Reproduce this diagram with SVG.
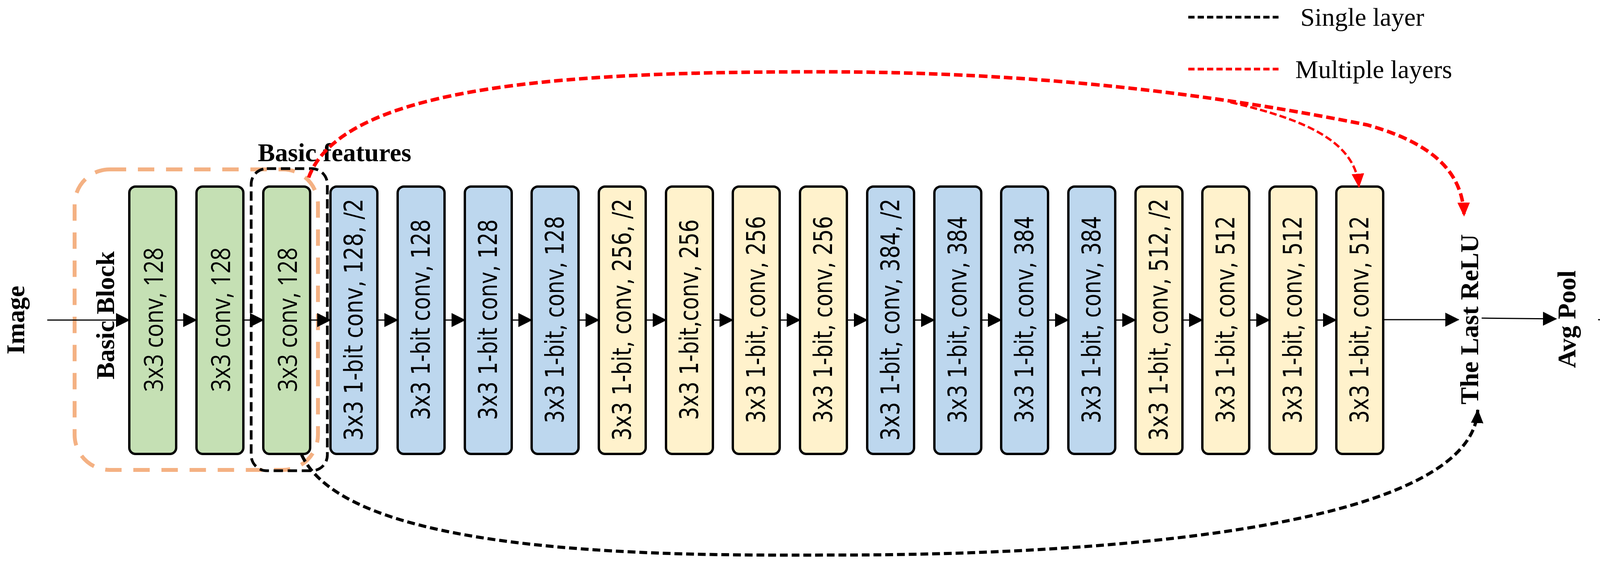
<svg xmlns="http://www.w3.org/2000/svg" width="4318" height="1445" viewBox="0 0 4318 1445">
<style>
.box{stroke:#000;stroke-width:6}
.g{fill:#C5E0B4}.b{fill:#BDD7EE}.y{fill:#FFF2CC}
.bt{font-family:"DejaVu Sans",sans-serif;font-size:50px;fill:#000;text-anchor:middle;dominant-baseline:central}
.gt{font-family:"Open Sans",sans-serif;font-size:52px;fill:#000;text-anchor:middle;dominant-baseline:central}
.lbl{font-family:"Liberation Serif",serif;font-weight:bold;font-size:66px;fill:#000;text-anchor:middle}
.leg{font-family:"Liberation Serif",serif;font-size:66px;fill:#000}
.flow{stroke:#000;stroke-width:3;fill:none}
</style>
<defs>
<marker id="ah" markerUnits="userSpaceOnUse" markerWidth="36" markerHeight="36" refX="34" refY="18" orient="auto"><path d="M0,0 L36,18 L0,36 Z" fill="#000"/></marker>
<marker id="ahr" markerUnits="userSpaceOnUse" markerWidth="36" markerHeight="36" refX="34" refY="18" orient="auto"><path d="M0,2 L36,18 L0,34 Z" fill="#FF0000"/></marker>
<marker id="ahk" markerUnits="userSpaceOnUse" markerWidth="36" markerHeight="36" refX="34" refY="18" orient="auto"><path d="M0,2 L36,18 L0,34 Z" fill="#000"/></marker>
</defs>
<rect x="0" y="0" width="4318" height="1445" fill="#fff"/>
<g id="groups">
<rect x="191" y="434" width="623" height="770" rx="90" fill="none" stroke="#F4B183" stroke-width="10" stroke-dasharray="42 30"/>
<rect x="643" y="432" width="195" height="774" rx="40" fill="none" stroke="#000" stroke-width="7" stroke-dasharray="24 12"/>
</g>
<g id="labels">
<text class="lbl" transform="translate(62,820) rotate(-90)">Image</text>
<text class="lbl" transform="translate(292,808) rotate(-90)">Basic  Block</text>
<text class="lbl" x="660" y="413" style="text-anchor:start">Basic  features</text>
<text class="lbl" transform="translate(3784,818) rotate(-90)">The Last ReLU</text>
<text class="lbl" transform="translate(4033,818) rotate(-90)">Avg Pool</text>
</g>
<g id="legend">
<line x1="3042" y1="44" x2="3273" y2="44" stroke="#000" stroke-width="7" stroke-dasharray="16 8"/>
<text class="leg" x="3329" y="66">Single layer</text>
<line x1="3042" y1="177" x2="3273" y2="177" stroke="#FF0000" stroke-width="7" stroke-dasharray="16 8"/>
<text class="leg" x="3316" y="200">Multiple layers</text>
</g>
<g id="n0"><rect class="box g" x="331" y="478" width="120" height="685" rx="16"/><text class="gt" transform="translate(391,819) rotate(-90) scale(1,1.3)" textLength="370" lengthAdjust="spacingAndGlyphs">3x3 conv, 128</text></g>
<g id="n1"><rect class="box g" x="503" y="478" width="120" height="685" rx="16"/><text class="gt" transform="translate(563,819) rotate(-90) scale(1,1.3)" textLength="370" lengthAdjust="spacingAndGlyphs">3x3 conv, 128</text></g>
<g id="n2"><rect class="box g" x="674" y="478" width="120" height="685" rx="16"/><text class="gt" transform="translate(734,819) rotate(-90) scale(1,1.3)" textLength="370" lengthAdjust="spacingAndGlyphs">3x3 conv, 128</text></g>
<g id="n3"><rect class="box b" x="846" y="478" width="120" height="685" rx="16"/><text class="bt" transform="translate(906,819) rotate(-90) scale(1,1.3)" textLength="620" lengthAdjust="spacingAndGlyphs">3x3 1-bit conv,  128, /2</text></g>
<g id="n4"><rect class="box b" x="1018" y="478" width="120" height="685" rx="16"/><text class="bt" transform="translate(1078,819) rotate(-90) scale(1,1.3)" textLength="514" lengthAdjust="spacingAndGlyphs">3x3 1-bit conv, 128</text></g>
<g id="n5"><rect class="box b" x="1190" y="478" width="120" height="685" rx="16"/><text class="bt" transform="translate(1250,819) rotate(-90) scale(1,1.3)" textLength="514" lengthAdjust="spacingAndGlyphs">3x3 1-bit conv, 128</text></g>
<g id="n6"><rect class="box b" x="1361" y="478" width="120" height="685" rx="16"/><text class="bt" transform="translate(1421,819) rotate(-90) scale(1,1.3)" textLength="531" lengthAdjust="spacingAndGlyphs">3x3 1-bit, conv, 128</text></g>
<g id="n7"><rect class="box y" x="1533" y="478" width="120" height="685" rx="16"/><text class="bt" transform="translate(1593,819) rotate(-90) scale(1,1.3)" textLength="620" lengthAdjust="spacingAndGlyphs">3x3 1-bit, conv, 256, /2</text></g>
<g id="n8"><rect class="box y" x="1705" y="478" width="120" height="685" rx="16"/><text class="bt" transform="translate(1765,819) rotate(-90) scale(1,1.3)" textLength="514" lengthAdjust="spacingAndGlyphs">3x3 1-bit,conv, 256</text></g>
<g id="n9"><rect class="box y" x="1876" y="478" width="120" height="685" rx="16"/><text class="bt" transform="translate(1936,819) rotate(-90) scale(1,1.3)" textLength="531" lengthAdjust="spacingAndGlyphs">3x3 1-bit, conv, 256</text></g>
<g id="n10"><rect class="box y" x="2048" y="478" width="120" height="685" rx="16"/><text class="bt" transform="translate(2108,819) rotate(-90) scale(1,1.3)" textLength="531" lengthAdjust="spacingAndGlyphs">3x3 1-bit, conv, 256</text></g>
<g id="n11"><rect class="box b" x="2220" y="478" width="120" height="685" rx="16"/><text class="bt" transform="translate(2280,819) rotate(-90) scale(1,1.3)" textLength="620" lengthAdjust="spacingAndGlyphs">3x3 1-bit, conv, 384, /2</text></g>
<g id="n12"><rect class="box b" x="2392" y="478" width="120" height="685" rx="16"/><text class="bt" transform="translate(2452,819) rotate(-90) scale(1,1.3)" textLength="531" lengthAdjust="spacingAndGlyphs">3x3 1-bit, conv, 384</text></g>
<g id="n13"><rect class="box b" x="2563" y="478" width="120" height="685" rx="16"/><text class="bt" transform="translate(2623,819) rotate(-90) scale(1,1.3)" textLength="531" lengthAdjust="spacingAndGlyphs">3x3 1-bit, conv, 384</text></g>
<g id="n14"><rect class="box b" x="2735" y="478" width="120" height="685" rx="16"/><text class="bt" transform="translate(2795,819) rotate(-90) scale(1,1.3)" textLength="531" lengthAdjust="spacingAndGlyphs">3x3 1-bit, conv, 384</text></g>
<g id="n15"><rect class="box y" x="2907" y="478" width="120" height="685" rx="16"/><text class="bt" transform="translate(2967,819) rotate(-90) scale(1,1.3)" textLength="620" lengthAdjust="spacingAndGlyphs">3x3 1-bit, conv, 512, /2</text></g>
<g id="n16"><rect class="box y" x="3078" y="478" width="120" height="685" rx="16"/><text class="bt" transform="translate(3138,819) rotate(-90) scale(1,1.3)" textLength="531" lengthAdjust="spacingAndGlyphs">3x3 1-bit, conv, 512</text></g>
<g id="n17"><rect class="box y" x="3250" y="478" width="120" height="685" rx="16"/><text class="bt" transform="translate(3310,819) rotate(-90) scale(1,1.3)" textLength="531" lengthAdjust="spacingAndGlyphs">3x3 1-bit, conv, 512</text></g>
<g id="n18"><rect class="box y" x="3421" y="478" width="120" height="685" rx="16"/><text class="bt" transform="translate(3481,819) rotate(-90) scale(1,1.3)" textLength="531" lengthAdjust="spacingAndGlyphs">3x3 1-bit, conv, 512</text></g>
<g id="fc"><rect class="box g" x="4172" y="482" width="120" height="683" rx="16"/><text class="gt" transform="translate(4232,819) rotate(-90) scale(1,1.3)">FC</text></g>
<g id="connectors">
<line class="flow" x1="121" y1="820" x2="331" y2="820" marker-end="url(#ah)"/>
<line class="flow" x1="451" y1="820" x2="503" y2="820" marker-end="url(#ah)"/>
<line class="flow" x1="623" y1="820" x2="674" y2="820" marker-end="url(#ah)"/>
<line class="flow" x1="794" y1="820" x2="846" y2="820" marker-end="url(#ah)"/>
<line class="flow" x1="966" y1="820" x2="1018" y2="820" marker-end="url(#ah)"/>
<line class="flow" x1="1138" y1="820" x2="1190" y2="820" marker-end="url(#ah)"/>
<line class="flow" x1="1310" y1="820" x2="1361" y2="820" marker-end="url(#ah)"/>
<line class="flow" x1="1481" y1="820" x2="1533" y2="820" marker-end="url(#ah)"/>
<line class="flow" x1="1653" y1="820" x2="1705" y2="820" marker-end="url(#ah)"/>
<line class="flow" x1="1825" y1="820" x2="1876" y2="820" marker-end="url(#ah)"/>
<line class="flow" x1="1996" y1="820" x2="2048" y2="820" marker-end="url(#ah)"/>
<line class="flow" x1="2168" y1="820" x2="2220" y2="820" marker-end="url(#ah)"/>
<line class="flow" x1="2340" y1="820" x2="2392" y2="820" marker-end="url(#ah)"/>
<line class="flow" x1="2512" y1="820" x2="2563" y2="820" marker-end="url(#ah)"/>
<line class="flow" x1="2683" y1="820" x2="2735" y2="820" marker-end="url(#ah)"/>
<line class="flow" x1="2855" y1="820" x2="2907" y2="820" marker-end="url(#ah)"/>
<line class="flow" x1="3027" y1="820" x2="3078" y2="820" marker-end="url(#ah)"/>
<line class="flow" x1="3198" y1="820" x2="3250" y2="820" marker-end="url(#ah)"/>
<line class="flow" x1="3370" y1="820" x2="3421" y2="820" marker-end="url(#ah)"/>
<line class="flow" x1="3541" y1="819" x2="3734" y2="819" marker-end="url(#ah)"/>
<line class="flow" x1="3793" y1="815" x2="3984" y2="817" marker-end="url(#ah)"/>
<line class="flow" x1="4091" y1="819" x2="4172" y2="821" marker-end="url(#ah)"/>
<path d="M790 455 C880 210, 1500 184, 2100 184 C2650 184, 3100 240, 3500 320 C3680 370, 3745 450, 3748 553" fill="none" stroke="#FF0000" stroke-width="9" stroke-dasharray="22 10" marker-end="url(#ahr)"/>
<path d="M3150 262 C3360 310, 3470 370, 3479 479" fill="none" stroke="#FF0000" stroke-width="6" stroke-dasharray="18 8" marker-end="url(#ahr)"/>
<path d="M772 1165 C900 1440, 1800 1422, 2170 1422 C2900 1420, 3770 1340, 3783 1050" fill="none" stroke="#000" stroke-width="8" stroke-dasharray="20 10" marker-end="url(#ahk)"/>
</g>
</svg>
